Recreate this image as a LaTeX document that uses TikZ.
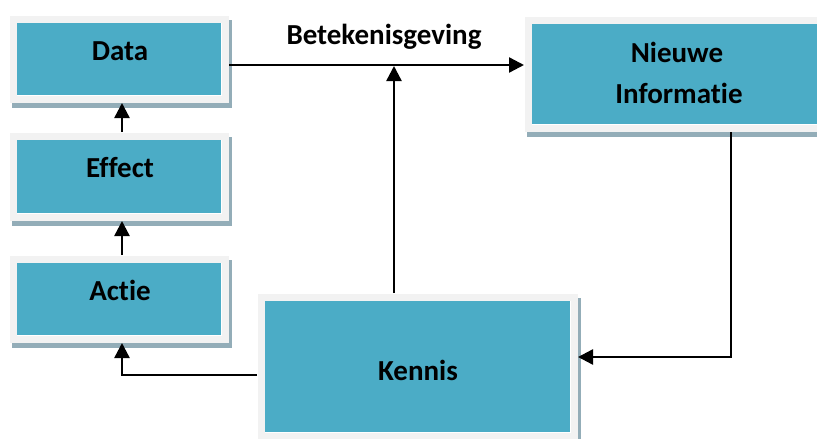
\documentclass[tikz,border=0pt]{standalone}
\usepackage{fontspec}
\setmainfont{Carlito}[RawFeature={-liga}]
\usetikzlibrary{arrows.meta,backgrounds}
\definecolor{tealbox}{HTML}{4BACC6}
\definecolor{framegray}{HTML}{F2F2F2}
\definecolor{shadowc}{HTML}{93ADB8}
\tikzset{
  boxnode/.style={rectangle, fill=tealbox, draw=white, line width=0.5pt,
    double=framegray, double distance=7pt, inner sep=0pt, outer sep=4pt},
  lbl/.style={font=\bfseries\fontsize{29}{34}\selectfont, anchor=base, inner sep=0pt},
  arr/.style={line width=2.4pt, -{Triangle[length=15pt,width=15pt]}},
}
\begin{document}
\begin{tikzpicture}[x=1pt,y=-1pt]
\useasboundingbox (0,0) rectangle (817,439);
% shadows
\fill[shadowc] (12,20) rectangle (232,108);
\fill[shadowc] (12,137) rectangle (232,226);
\fill[shadowc] (12,260) rectangle (232,348);
\fill[shadowc] (527,21) rectangle (835,137);
\fill[shadowc] (260,298) rectangle (581,445);
% boxes
\node[boxnode, minimum width=212pt, minimum height=80pt] (data) at (119,59) {};
\node[boxnode, minimum width=212pt, minimum height=81pt] (effect) at (119,176.5) {};
\node[boxnode, minimum width=212pt, minimum height=80pt] (actie) at (119,299) {};
\node[boxnode, minimum width=298pt, minimum height=108pt] (nieuwe) at (677,74) {};
\node[boxnode, minimum width=313pt, minimum height=139pt] (kennis) at (417.5,366.5) {};
% labels
\node[lbl] (tdata) at (120,60) {Data};
\node[lbl] (teffect) at (120,177) {Effect};
\node[lbl] (tactie) at (120,300) {Actie};
\node[lbl] (tnieuwe1) at (677,62) {Nieuwe};
\node[lbl] (tnieuwe2) at (679,103) {Informatie};
\node[lbl] (tkennis) at (418,380) {Kennis};
\node[lbl] (tbetek) at (384,45) {Betekenisgeving};
% connectors
\coordinate (hy) at (0,65);
\coordinate (lx) at (122,0);
\coordinate (kx) at (394,0);
\coordinate (nx) at (731,0);
\coordinate (ny) at (0,357);
\coordinate (ky) at (0,375);
\draw[arr] (data.east |- hy) -- (nieuwe.west |- hy);
\draw[arr] (kennis.north -| kx) -- ([yshift=-1pt]kx |- hy);
\draw[arr] (nieuwe.south -| nx) -- (nx |- ny) -- (kennis.east |- ny);
\draw[arr] (kennis.west |- ky) -- (lx |- ky) -- (actie.south -| lx);
\draw[arr] (actie.north -| lx) -- (effect.south -| lx);
\draw[arr] (effect.north -| lx) -- (data.south -| lx);
\end{tikzpicture}
\end{document}
